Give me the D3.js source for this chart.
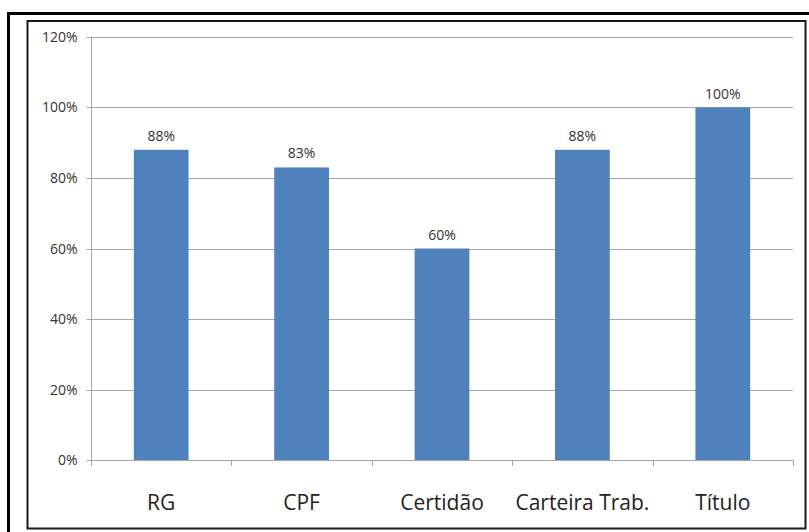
<!DOCTYPE html>
<html>
<head>
<meta charset="utf-8">
<script src="https://cdn.jsdelivr.net/npm/d3@7"></script>
<style>
  html, body { margin: 0; padding: 0; background: #fff; }
  svg { display: block; }
</style>
</head>
<body>
<svg id="chart" width="809" height="532"></svg>
<script>
// Documents held, share of respondents (%)
const categories = ["RG", "CPF", "Certidão", "Carteira Trab.", "Título"];
const values = [88, 83, 60, 88, 100];
const yTicks = [0, 20, 40, 60, 80, 100, 120];

const svg = d3.select("#chart");
const font = "'Open Sans', sans-serif";

// Frames
svg.append("rect")
  .attr("x", 8.5).attr("y", 13.5)
  .attr("width", 820).attr("height", 540)
  .attr("fill", "none").attr("stroke", "#000").attr("stroke-width", 3);
svg.append("rect")
  .attr("x", 27.5).attr("y", 21)
  .attr("width", 778).attr("height", 507.5)
  .attr("fill", "#fff").attr("stroke", "#1a1a1a").attr("stroke-width", 2);

const plot = { left: 91, right: 793, top: 37, bottom: 460 };

const x = d3.scaleBand()
  .domain(categories)
  .range([plot.left, plot.right])
  .padding(0);

const y = d3.scaleLinear()
  .domain([0, 120])
  .range([plot.bottom, plot.top]);

const barW = x.bandwidth() * 0.39;

// Horizontal gridlines
svg.append("g")
  .selectAll("line")
  .data(yTicks.filter(d => d > 0))
  .join("line")
  .attr("x1", plot.left).attr("x2", plot.right)
  .attr("y1", d => Math.round(y(d)) + 0.5)
  .attr("y2", d => Math.round(y(d)) + 0.5)
  .attr("stroke", "#a6a6a6").attr("stroke-width", 1);

// Y axis
const yAxis = svg.append("g")
  .attr("transform", `translate(${plot.left + 0.5},0.5)`)
  .call(d3.axisLeft(y).tickValues(yTicks).tickSize(5).tickPadding(9)
    .tickFormat(d => d + "%"));
yAxis.select(".domain").attr("stroke", "#a6a6a6").attr("d", `M0,${plot.top}V${plot.bottom}`);
yAxis.selectAll(".tick line").attr("stroke", "#a6a6a6");
yAxis.selectAll(".tick").attr("transform", d => `translate(0,${Math.round(y(d))})`);
yAxis.selectAll("text")
  .attr("font-family", font).attr("font-size", 14)
  .attr("fill", "#333");

// Bars
svg.append("g")
  .selectAll("rect")
  .data(values)
  .join("rect")
  .attr("x", (d, i) => x(categories[i]) + (x.bandwidth() - barW) / 2)
  .attr("y", d => y(d))
  .attr("width", barW)
  .attr("height", d => y(0) - y(d))
  .attr("fill", "#4f81bd");

// X axis
const xAxis = svg.append("g")
  .attr("transform", `translate(0,${plot.bottom + 0.5})`)
  .call(d3.axisBottom(x).tickSize(0));
xAxis.select(".domain").attr("stroke", "#a6a6a6").attr("d", `M${plot.left},0H${plot.right}`);
xAxis.selectAll("text")
  .attr("y", 49).attr("dy", null)
  .attr("font-family", font).attr("font-size", 21)
  .attr("fill", "#222");

// Category separator ticks
svg.append("g")
  .selectAll("line")
  .data(d3.range(categories.length + 1))
  .join("line")
  .attr("x1", i => Math.round(plot.left + i * x.step()) + 0.5)
  .attr("x2", i => Math.round(plot.left + i * x.step()) + 0.5)
  .attr("y1", plot.bottom).attr("y2", plot.bottom + 6)
  .attr("stroke", "#a6a6a6");

// Value labels
svg.append("g")
  .selectAll("text")
  .data(values)
  .join("text")
  .attr("x", (d, i) => x(categories[i]) + x.bandwidth() / 2)
  .attr("y", d => y(d) - 9)
  .attr("text-anchor", "middle")
  .attr("font-family", font).attr("font-size", 14)
  .attr("fill", "#333")
  .text(d => d + "%");
</script>
</body>
</html>
